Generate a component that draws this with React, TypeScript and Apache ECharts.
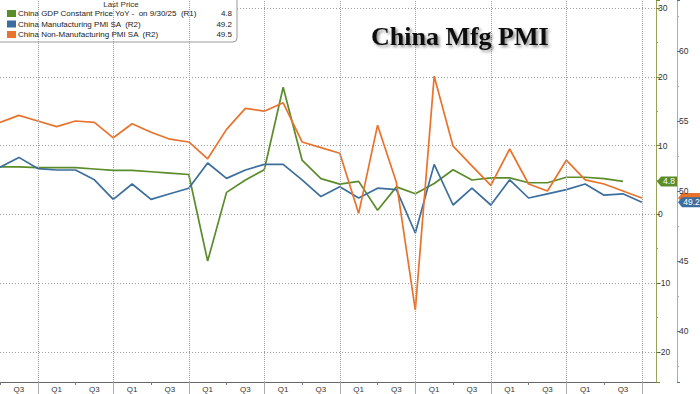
import React, { useEffect, useRef } from 'react';
import * as echarts from 'echarts';

// Quarter-end points, 2017Q2 .. 2025Q4
const quarters = [
  '2017Q2', '2017Q3', '2017Q4',
  '2018Q1', '2018Q2', '2018Q3', '2018Q4',
  '2019Q1', '2019Q2', '2019Q3', '2019Q4',
  '2020Q1', '2020Q2', '2020Q3', '2020Q4',
  '2021Q1', '2021Q2', '2021Q3', '2021Q4',
  '2022Q1', '2022Q2', '2022Q3', '2022Q4',
  '2023Q1', '2023Q2', '2023Q3', '2023Q4',
  '2024Q1', '2024Q2', '2024Q3', '2024Q4',
  '2025Q1', '2025Q2', '2025Q3', '2025Q4',
];

// China GDP constant price YoY (R1), through 2025Q3
const gdpYoY = [
  6.9, 6.9, 6.8, 6.8, 6.8, 6.6, 6.4, 6.4, 6.2, 6.0, 5.8,
  -6.8, 3.2, 5.0, 6.5, 18.5, 7.9, 5.2, 4.4, 4.8, 0.6, 4.0, 3.0,
  4.5, 6.5, 5.0, 5.3, 5.3, 4.6, 4.6, 5.4, 5.4, 5.2, 4.8,
];

// China Manufacturing PMI SA (R2)
const mfgPMI = [
  51.7, 52.4, 51.6, 51.5, 51.5, 50.8, 49.4, 50.5, 49.4, 49.8, 50.2,
  52.0, 50.9, 51.5, 51.9, 51.9, 50.8, 49.6, 50.3, 49.5, 50.2, 50.1, 47.0,
  51.9, 49.0, 50.2, 49.0, 50.8, 49.5, 49.8, 50.1, 50.5, 49.7, 49.8, 49.2,
];

// China Non-Manufacturing PMI SA (R2)
const nonMfgPMI = [
  54.9, 55.4, 55.0, 54.6, 55.0, 54.9, 53.8, 54.8, 54.2, 53.7, 53.5,
  52.3, 54.4, 55.9, 55.7, 56.3, 53.5, 53.1, 52.7, 48.4, 54.7, 50.6, 41.5,
  58.2, 53.2, 51.8, 50.4, 53.0, 50.5, 50.0, 52.2, 50.8, 50.5, 50.0, 49.5,
];

const seriesNames = [
  'China GDP Constant Price YoY -  on 9/30/25  (R1)',
  'China Manufacturing PMI SA  (R2)',
  'China Non-Manufacturing PMI SA  (R2)',
];
const titleText = 'China Mfg PMI';
const legendHeader = 'Last Price';

const COLORS = ['#5b8c2a', '#3b6e9e', '#e8732c'];

// axis extents
const X_OFFSET = 2;
const X_MIN = 2;
const X_MAX = 36.75;
const GDP_MIN = -24.4;
const GDP_MAX = 31.2;
const PMI_MIN = 36.36;
const PMI_MAX = 63.64;

const FONT = "'Liberation Sans', Arial, sans-serif";

const toPairs = (arr: number[]) => arr.map((v, i) => [i + X_OFFSET, v]);
const qPos = (which: string[]) =>
  quarters
    .map((q, i) => (which.includes(q.slice(4)) ? i + X_OFFSET : null))
    .filter((v) => v !== null) as number[];

export default function App() {
  const ref = useRef<HTMLDivElement>(null);

  useEffect(() => {
    document.body.style.margin = '0';
    if (!ref.current) return;
    const chart = echarts.init(ref.current, undefined, { renderer: 'svg' });

    const dotted = { color: '#a0a0a0', type: [1, 2] as any, width: 1 };
    const labelPos = qPos(['Q1', 'Q3']);
    const yearPos = qPos(['Q4']);
    const midPos = qPos(['Q2']);

    const xLabelFormatter = (v: number) => {
      const q = quarters[Math.round(v) - X_OFFSET];
      return q ? q.slice(4) : '';
    };

    chart.setOption({
      animation: false,
      title: {
        text: titleText,
        left: 371,
        top: 23,
        padding: 0,
        textStyle: {
          fontFamily: "'Liberation Serif', 'DejaVu Serif', serif",
          fontWeight: 'bold',
          fontSize: 26,
          color: '#111',
          textShadowColor: 'rgba(0,0,0,0.45)',
          textShadowBlur: 3,
          textShadowOffsetX: 2,
          textShadowOffsetY: 2,
        },
      },
      grid: { left: 0, right: 44, top: 0, bottom: 12, containLabel: false },
      xAxis: [
        {
          type: 'value',
          position: 'bottom',
          min: X_MIN,
          max: X_MAX,
          axisLine: { show: true, onZero: false, lineStyle: { color: '#666', width: 1 } },
          axisTick: { show: true, customValues: yearPos, length: 12, lineStyle: { color: '#aaa' } },
          axisLabel: {
            customValues: labelPos,
            formatter: xLabelFormatter,
            color: '#333',
            fontSize: 8,
            fontFamily: FONT,
            margin: 3,
          },
          splitLine: { show: false },
        },
        {
          type: 'value',
          position: 'bottom',
          min: X_MIN,
          max: X_MAX,
          axisLine: { show: false, onZero: false },
          axisTick: { show: true, customValues: midPos, length: 3, lineStyle: { color: '#777' } },
          axisLabel: { show: false },
          splitLine: { show: false },
        },
      ],
      yAxis: [
        {
          type: 'value',
          position: 'right',
          offset: 0,
          min: GDP_MIN,
          max: GDP_MAX,
          splitNumber: 5,
          minInterval: 10,
          maxInterval: 10,
          axisLine: { show: true, lineStyle: { color: '#9aa35c', width: 1 } },
          axisTick: { show: true, length: 4, lineStyle: { color: '#6e8a36' } },
          minorTick: { show: true, splitNumber: 2, length: 2, lineStyle: { color: '#9aa35c' } },
          axisLabel: {
            color: '#333',
            fontSize: 8.5,
            fontFamily: FONT,
            margin: 2,
            showMinLabel: false,
            showMaxLabel: false,
            formatter: (v: number) => (Number.isInteger(v / 10) ? String(v) : ''),
          },
          splitLine: { show: true, showMinLine: false, showMaxLine: false, lineStyle: dotted },
        },
        {
          type: 'value',
          position: 'right',
          offset: 21,
          min: PMI_MIN,
          max: PMI_MAX,
          splitNumber: 5,
          minInterval: 5,
          maxInterval: 5,
          axisLine: { show: true, lineStyle: { color: '#9fb0c0', width: 1 } },
          axisTick: { show: true, length: 3, lineStyle: { color: '#4f7397' } },
          minorTick: { show: true, splitNumber: 2, length: 2, lineStyle: { color: '#9fb0c0' } },
          axisLabel: {
            color: '#333',
            fontSize: 8.5,
            fontFamily: FONT,
            margin: 2,
            showMinLabel: false,
            showMaxLabel: false,
            formatter: (v: number) => (Number.isInteger(v / 5) ? String(v) : ''),
          },
          splitLine: { show: false },
        },
      ],
      series: [
        {
          name: seriesNames[0],
          type: 'line',
          xAxisIndex: 0,
          yAxisIndex: 0,
          data: toPairs(gdpYoY),
          symbol: 'none',
          lineStyle: { color: COLORS[0], width: 1.7 },
          itemStyle: { color: COLORS[0] },
          markLine: {
            silent: true,
            symbol: ['none', 'none'],
            label: { show: false },
            lineStyle: { color: '#a0a0a0', type: 'dotted', width: 1 },
            emphasis: { disabled: true },
            data: yearPos.map((x) => ({ xAxis: x })),
          },
        },
        {
          name: seriesNames[1],
          type: 'line',
          xAxisIndex: 0,
          yAxisIndex: 1,
          data: toPairs(mfgPMI),
          symbol: 'none',
          lineStyle: { color: COLORS[1], width: 1.7 },
          itemStyle: { color: COLORS[1] },
        },
        {
          name: seriesNames[2],
          type: 'line',
          xAxisIndex: 0,
          yAxisIndex: 1,
          data: toPairs(nonMfgPMI),
          symbol: 'none',
          lineStyle: { color: COLORS[2], width: 1.7 },
          itemStyle: { color: COLORS[2] },
        },
      ],
    });

    const lastVals = [
      gdpYoY[gdpYoY.length - 1],
      mfgPMI[mfgPMI.length - 1],
      nonMfgPMI[nonMfgPMI.length - 1],
    ];
    const axisIdx = [0, 1, 1];
    const xEdge = chart.convertToPixel({ xAxisIndex: 0 }, X_MAX) as number;
    const tagX = [xEdge + 1, xEdge + 22, xEdge + 22];
    const tagW = [20, 23, 23];

    const tag = (i: number, withText: boolean) => {
      const y = chart.convertToPixel({ yAxisIndex: axisIdx[i] }, lastVals[i]) as number;
      const x = tagX[i];
      const w = tagW[i];
      const h = 10;
      const children: any[] = [
        {
          type: 'polygon',
          shape: {
            points: [
              [x, y],
              [x + 4, y - h / 2],
              [x + w, y - h / 2],
              [x + w, y + h / 2],
              [x + 4, y + h / 2],
            ],
          },
          style: { fill: COLORS[i], stroke: 'none' },
        },
      ];
      if (withText) {
        children.push({
          type: 'text',
          x: x + 4 + (w - 4) / 2,
          y,
          style: {
            text: lastVals[i].toFixed(1),
            fill: '#fff',
            font: `8.5px ${FONT}`,
            textAlign: 'center',
            textVerticalAlign: 'middle',
          },
        });
      }
      return { type: 'group', z: 100 + i, children };
    };

    const rowY = [13.5, 24, 34.5];
    const legendChildren: any[] = [
      {
        type: 'rect',
        shape: { x: -2, y: -3, width: 239, height: 45, r: [0, 0, 4, 0] },
        style: { fill: '#fff', stroke: '#9a9a9a', lineWidth: 1 },
      },
      {
        type: 'text',
        x: 121,
        y: 4,
        style: {
          text: legendHeader,
          fill: '#333',
          font: `8px ${FONT}`,
          textAlign: 'center',
          textVerticalAlign: 'middle',
        },
      },
    ];
    seriesNames.forEach((name, i) => {
      legendChildren.push(
        {
          type: 'rect',
          shape: { x: 7, y: rowY[i] - 3.5, width: 9, height: 7 },
          style: { fill: COLORS[i], stroke: 'none' },
        },
        {
          type: 'text',
          x: 18,
          y: rowY[i],
          style: {
            text: name,
            fill: '#222',
            font: `8px ${FONT}`,
            textAlign: 'left',
            textVerticalAlign: 'middle',
          },
        },
        {
          type: 'text',
          x: 232,
          y: rowY[i],
          style: {
            text: lastVals[i].toFixed(1),
            fill: '#222',
            font: `8px ${FONT}`,
            textAlign: 'right',
            textVerticalAlign: 'middle',
          },
        }
      );
    });

    chart.setOption({
      graphic: [
        tag(2, false),
        tag(1, true),
        tag(0, true),
        { type: 'group', z: 200, children: legendChildren },
      ],
    });

    return () => chart.dispose();
  }, []);

  return (
    <div
      ref={ref}
      style={{ width: 700, height: 394, position: 'absolute', left: 0, top: 0, background: '#fff' }}
    />
  );
}
